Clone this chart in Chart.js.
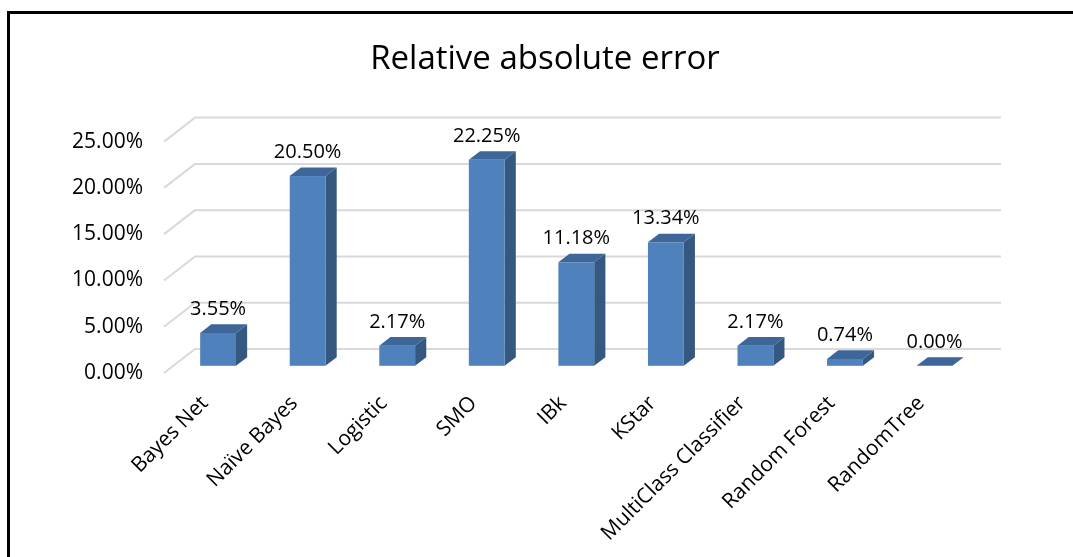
<!DOCTYPE html>
<html>
<head>
<meta charset="utf-8">
<script src="https://cdn.jsdelivr.net/npm/chart.js@4/dist/chart.umd.min.js"></script>
<style>
  html, body { margin: 0; padding: 0; background: #fff; overflow: hidden; }
  #wrap { position: relative; width: 1073px; height: 557px; overflow: hidden; }
  #frame { position: absolute; left: 7px; top: 11px; width: 1200px; height: 700px;
           border-left: 3px solid #000; border-top: 3px solid #000; }
  canvas { position: absolute; left: 0; top: 0; }
</style>
</head>
<body>
<div id="wrap">
  <div id="frame"></div>
  <canvas id="chart" width="1073" height="557"></canvas>
</div>
<script>
// Classifier names along the category axis
const categories = ['Bayes Net', 'Naïve Bayes', 'Logistic', 'SMO', 'IBk', 'KStar',
                    'MultiClass Classifier', 'Random Forest', 'RandomTree'];
// Relative absolute error per classifier, in percent
const errorValues = [3.55, 20.50, 2.17, 22.25, 11.18, 13.34, 2.17, 0.74, 0.00];
// Value axis ticks
const yMin = 0;
const yMax = 25;
const yStep = 5;

const FONT = '"Open Sans", "Liberation Sans", sans-serif';

// Oblique projection of the 3D box: offset of the back wall from the front plane
const DEPTH_X = 31;
const DEPTH_Y = -24;
// Bars sit between these fractions of the depth
const BAR_FRONT = 0.30;
const BAR_DEPTH = 0.36;

const faceColors = { front: '#4F81BD', side: '#34587F', top: '#3E6699' };

const box3d = {
  id: 'box3d',
  beforeDatasetsDraw(chart) {
    const { ctx, chartArea: { left, right }, scales: { y } } = chart;
    ctx.save();
    ctx.strokeStyle = '#D9D9D9';
    ctx.lineWidth = 2;
    ctx.lineJoin = 'round';
    y.ticks.forEach(t => {
      const py = y.getPixelForValue(t.value);
      ctx.beginPath();
      ctx.moveTo(left, py);
      ctx.lineTo(left + DEPTH_X, py + DEPTH_Y);
      ctx.lineTo(right + DEPTH_X, py + DEPTH_Y);
      ctx.stroke();
    });
    ctx.restore();
  },
  afterDatasetsDraw(chart) {
    const { ctx } = chart;
    const meta = chart.getDatasetMeta(0);
    const sx = DEPTH_X * BAR_FRONT, sy = DEPTH_Y * BAR_FRONT;
    const ox = DEPTH_X * BAR_DEPTH, oy = DEPTH_Y * BAR_DEPTH;
    ctx.save();
    meta.data.forEach((bar, i) => {
      const { x, y, base, width } = bar.getProps(['x', 'y', 'base', 'width'], true);
      const x0 = x - width / 2 + sx, x1 = x + width / 2 + sx;
      const top = y + sy, bot = base + sy;
      // right side face
      ctx.fillStyle = faceColors.side;
      ctx.beginPath();
      ctx.moveTo(x1, bot); ctx.lineTo(x1, top);
      ctx.lineTo(x1 + ox, top + oy); ctx.lineTo(x1 + ox, bot + oy);
      ctx.closePath(); ctx.fill();
      // front face
      ctx.fillStyle = faceColors.front;
      ctx.fillRect(x0, top, x1 - x0, bot - top);
      // top face
      ctx.fillStyle = faceColors.top;
      ctx.beginPath();
      ctx.moveTo(x0, top); ctx.lineTo(x1, top);
      ctx.lineTo(x1 + ox, top + oy); ctx.lineTo(x0 + ox, top + oy);
      ctx.closePath(); ctx.fill();
      // value label
      ctx.fillStyle = '#000';
      ctx.font = '20px ' + FONT;
      ctx.textAlign = 'center';
      ctx.textBaseline = 'middle';
      ctx.fillText(errorValues[i].toFixed(2) + '%', (x0 + x1) / 2, top + oy - 15);
    });
    ctx.restore();
  }
};

new Chart(document.getElementById('chart'), {
  type: 'bar',
  data: {
    labels: categories,
    datasets: [{
      label: 'Relative absolute error',
      data: errorValues,
      backgroundColor: 'rgba(0,0,0,0)',
      borderWidth: 0,
      categoryPercentage: 1,
      barPercentage: 0.4
    }]
  },
  options: {
    responsive: false,
    animation: false,
    devicePixelRatio: 1,
    layout: { padding: { left: 17, right: 0, top: 0, bottom: 0 } },
    plugins: {
      legend: { display: false },
      tooltip: { enabled: false },
      title: {
        display: true,
        text: 'Relative absolute error',
        color: '#000',
        font: { family: FONT, size: 33, weight: 'normal', lineHeight: 1.2 },
        padding: { top: 40, bottom: 62 }
      }
    },
    scales: {
      x: {
        grid: { display: false },
        border: { display: false },
        afterFit(scale) { scale.height = 184; },
        ticks: {
          color: '#000',
          font: { family: FONT, size: 21 },
          minRotation: 45,
          maxRotation: 45,
          padding: 10,
          labelOffset: -4,
          autoSkip: false
        }
      },
      y: {
        min: yMin,
        max: yMax,
        grid: { display: false, drawTicks: false },
        border: { display: false },
        afterFit(scale) { scale.width = 147; },
        ticks: {
          stepSize: yStep,
          color: '#000',
          font: { family: FONT, size: 21 },
          padding: 21,
          callback: v => v.toFixed(2) + '%'
        }
      },
      // empty right-hand margin keeping the plot clear of the frame's right side
      margin: {
        position: 'right',
        display: true,
        grid: { display: false, drawTicks: false },
        border: { display: false },
        ticks: { display: false },
        afterFit(scale) { scale.width = 103; }
      }
    }
  },
  plugins: [box3d]
});
</script>
</body>
</html>
